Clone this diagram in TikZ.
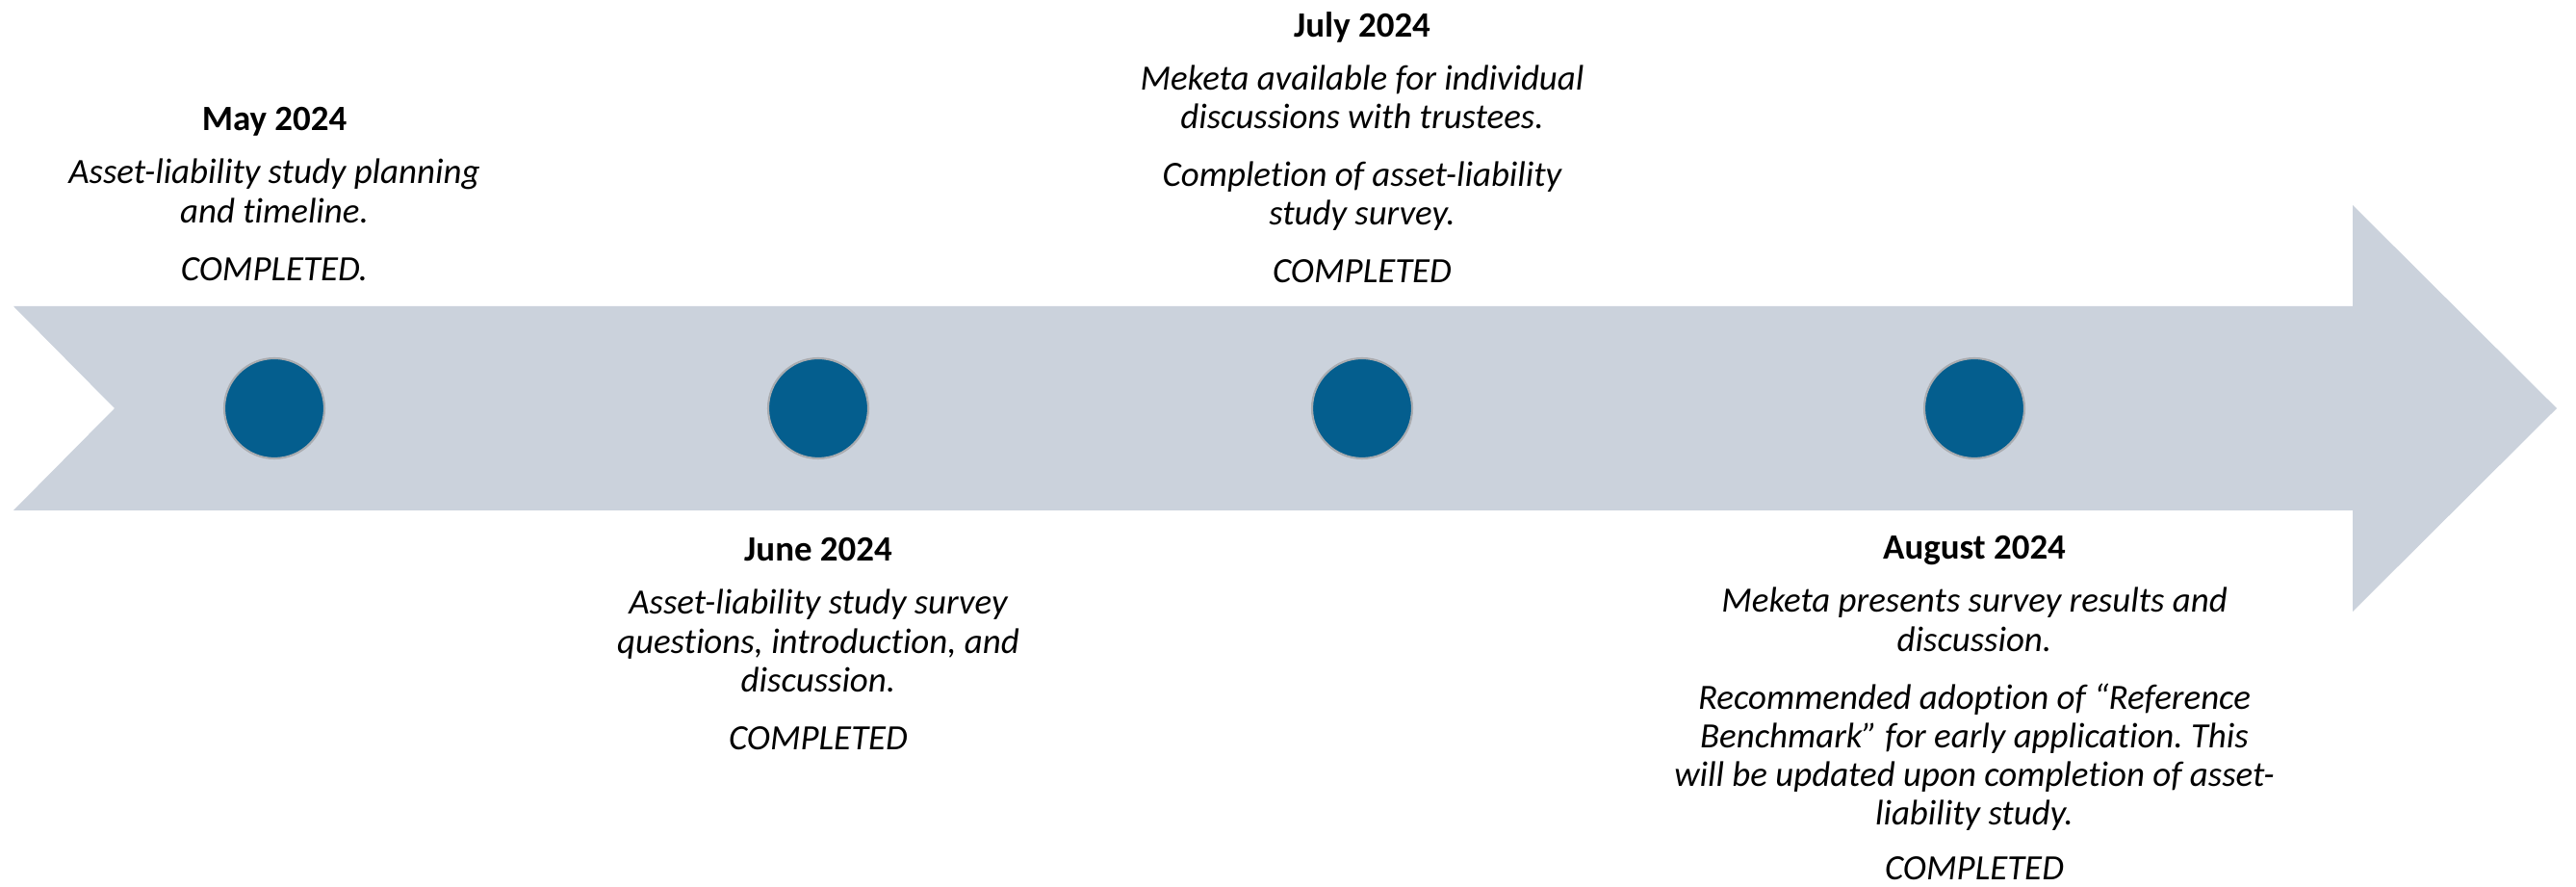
\documentclass[tikz,border=0pt]{standalone}
\usepackage{fontspec}
\setmainfont{Carlito}[Ligatures={NoCommon}]
\usetikzlibrary{positioning}
\frenchspacing

\definecolor{bandgray}{RGB}{203,210,220}
\definecolor{dotblue}{RGB}{4,94,142}
\definecolor{dotrim}{RGB}{170,172,176}

\tikzset{
  milestone/.style={circle, fill=dotblue, draw=dotrim, line width=0.6pt, minimum size=1.04cm, inner sep=0pt},
  note/.style={align=center, inner sep=0pt, anchor=north,
    font=\fontsize{10.5}{11.4}\selectfont\itshape},
}
\newcommand{\hd}[1]{{\upshape\bfseries #1}}

\begin{document}
\begin{tikzpicture}
\useasboundingbox (0,0) rectangle (26.76,9.21);

% arrow band
\fill [bandgray] (0.14,6.03) -- (24.44,6.03) -- (24.44,7.08) -- (26.56,4.97)
  -- (24.44,2.86) -- (24.44,3.91) -- (0.14,3.91) -- (1.19,4.97) -- cycle;

% milestones on the band
\node [milestone] (may) at (2.85,4.97) {};
\node [milestone] (june) at (8.50,4.97) {};
\node [milestone] (july) at (14.15,4.97) {};
\node [milestone] (aug) at (20.51,4.97) {};

% texts above
\node [note] (maytxt) at (2.85,8.10) {\hd{May 2024}\\[0.15cm]
Asset-liability study planning\\
and timeline.\\[0.2cm]
COMPLETED.};

\node [note] (julytxt) at (14.15,9.09) {\hd{July 2024}\\[0.15cm]
Meketa available for individual\\
discussions with trustees.\\[0.2cm]
Completion of asset-liability\\
study survey.\\[0.2cm]
COMPLETED};

% texts below
\node [note] (junetxt) at (8.50,3.63) {\hd{June 2024}\\[0.15cm]
Asset-liability study survey\\
questions, introduction, and\\
discussion.\\[0.2cm]
COMPLETED};

\node [note] (augtxt) at (20.51,3.65) {\hd{August 2024}\\[0.15cm]
Meketa presents survey results and\\
discussion.\\[0.2cm]
Recommended adoption of “Reference\\
Benchmark” for early application. This\\
will be updated upon completion of asset-\\
liability study.\\[0.17cm]
COMPLETED};

\end{tikzpicture}
\end{document}
